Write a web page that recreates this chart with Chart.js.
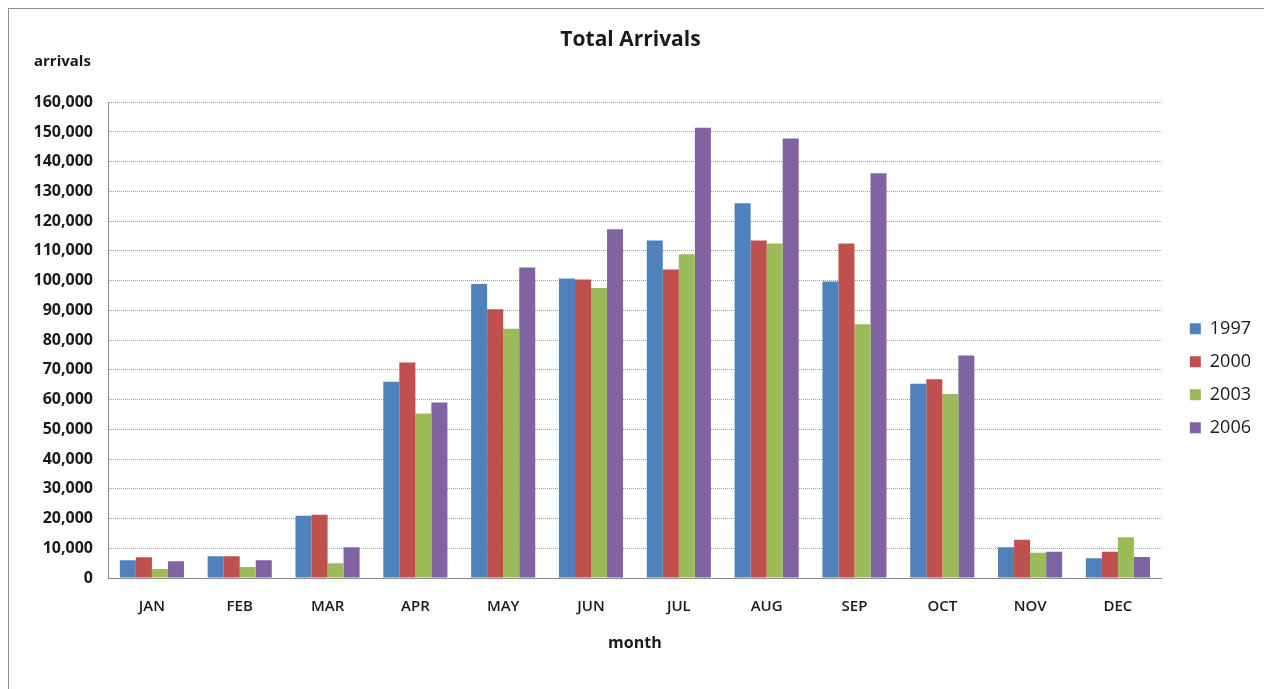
<!DOCTYPE html>
<html>
<head>
<meta charset="utf-8">
<title>Total Arrivals</title>
<script src="https://cdn.jsdelivr.net/npm/chart.js@4/dist/chart.umd.min.js"></script>
<style>
  html, body { margin: 0; padding: 0; background: #fff; overflow: hidden; }
  #frame { position: absolute; left: 8px; top: 8px; width: 1280px; height: 700px; border: 1px solid #8c8c8c; }
  #wrap { position: absolute; left: 0; top: 0; width: 1264px; height: 689px; }
</style>
</head>
<body>
<div id="frame"></div>
<div id="wrap"><canvas id="chart"></canvas></div>
<script>
/* ── Data ─────────────────────────────── */
const months  = ['JAN','FEB','MAR','APR','MAY','JUN','JUL','AUG','SEP','OCT','NOV','DEC'];
const years   = ['1997','2000','2003','2006'];
const y1997   = [6000, 7300, 20900, 66000,  98900, 100700, 113500, 126000,  99700, 65300, 10300,  6600];
const y2000   = [7000, 7300, 21300, 72500,  90400, 100400, 103700, 113500, 112500, 66800, 12900,  8800];
const y2003   = [3000, 3700,  5000, 55300,  83800,  97500, 108900, 112500,  85300, 61900,  8500, 13700];
const y2006   = [5600, 6000, 10300, 59000, 104400, 117300, 151400, 147800, 136100, 74800,  8800,  7100];
const colors  = ['#4f81bd', '#c0504d', '#9bbb59', '#8064a2'];

Chart.defaults.font.family = '"Open Sans", Lato, sans-serif';
Chart.defaults.color = '#1a1a1a';

const series = [y1997, y2000, y2003, y2006];

/* ── "arrivals" label above the value axis ── */
const yLabel = {
  id: 'yLabel',
  afterDraw(chart) {
    const ctx = chart.ctx;
    ctx.save();
    ctx.font = 'bold 15px "Open Sans", sans-serif';
    ctx.fillStyle = '#1a1a1a';
    ctx.textAlign = 'left';
    ctx.textBaseline = 'middle';
    ctx.fillText('arrivals', 34, 62);
    ctx.restore();
  }
};

new Chart(document.getElementById('chart'), {
  type: 'bar',
  data: {
    labels: months,
    datasets: years.map((y, i) => ({
      label: y,
      data: series[i],
      backgroundColor: colors[i],
      borderWidth: 0,
      barPercentage: 1,
      categoryPercentage: 0.73,
    })),
  },
  options: {
    responsive: true,
    maintainAspectRatio: false,
    animation: false,
    layout: { padding: { top: 0, left: 0, right: 3, bottom: 0 } },
    plugins: {
      tooltip: { enabled: false },
      title: {
        display: true,
        text: 'Total Arrivals',
        font: { size: 21, weight: 'bold' },
        color: '#1a1a1a',
        padding: { top: 27, bottom: 50 },
      },
      legend: {
        position: 'right',
        title: { display: true, text: ' ', font: { size: 12 }, padding: { top: 0, bottom: 53 } },
        labels: {
          boxWidth: 11,
          boxHeight: 11,
          padding: 15,
          font: { size: 18 },
          color: '#1a1a1a',
        },
      },
    },
    scales: {
      x: {
        grid: { display: false, drawTicks: false },
        border: { color: '#8c8c8c', width: 1 },
        ticks: { padding: 20, font: { size: 15, weight: '600' }, color: '#1a1a1a' },
        title: {
          display: true,
          text: 'month',
          font: { size: 16, weight: 'bold' },
          color: '#1a1a1a',
          padding: { top: 0, bottom: 36 },
        },
        afterFit(scale) { scale.height = 111; },
      },
      y: {
        min: 0,
        max: 160000,
        grid: { color: '#9a9a9a', drawTicks: false, lineWidth: 1 },
        border: { color: '#8c8c8c', width: 1, dash: [1, 1] },
        ticks: {
          stepSize: 10000,
          padding: 15,
          font: { size: 16, weight: 'bold' },
          color: '#1a1a1a',
          callback: v => v.toLocaleString('en-US'),
        },
        afterFit(scale) { scale.width = 108; },
      },
      // empty strip that keeps the legend clear of the plot area
      gap: {
        position: 'right',
        display: true,
        grid: { display: false },
        border: { display: false },
        ticks: { display: false },
        afterFit(scale) { scale.width = 13; },
      },
    },
  },
  plugins: [yLabel],
});
</script>
</body>
</html>
